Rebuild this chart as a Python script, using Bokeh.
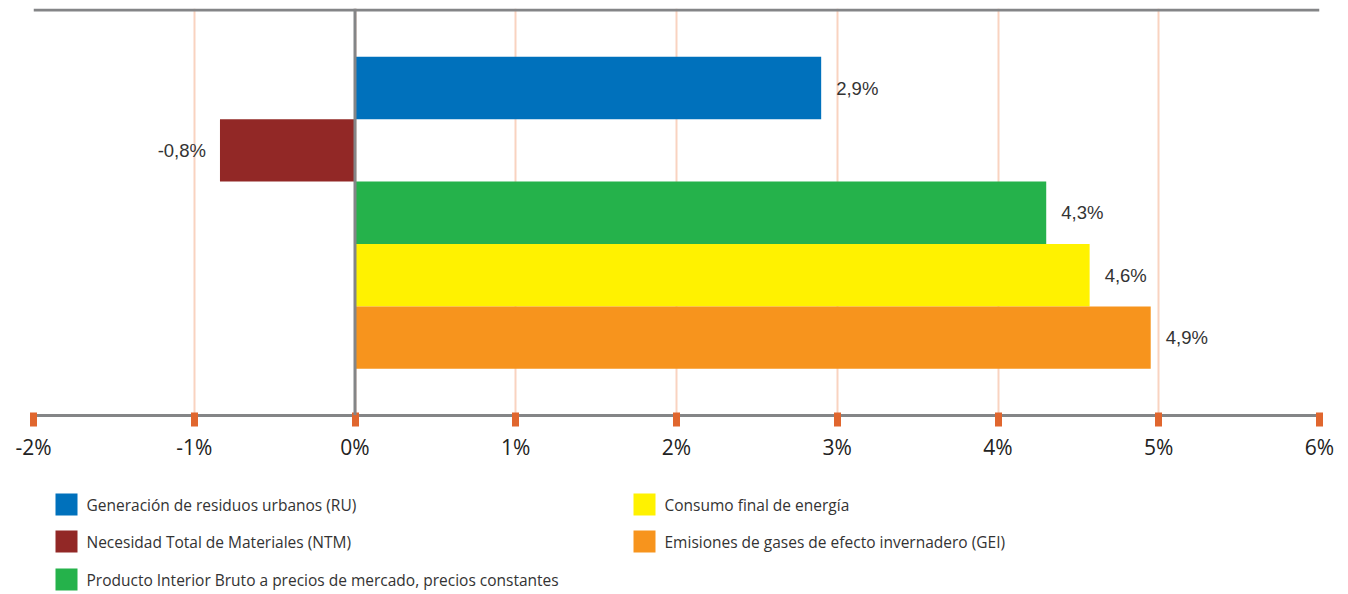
from bokeh.plotting import figure
from bokeh.models import Range1d, Span, ColumnDataSource, FixedTicker
from bokeh.layouts import column
from bokeh.core.properties import value
from bokeh.embed import file_html
from bokeh.resources import INLINE

# ---- data ----
categories = [
    "Generación de residuos urbanos (RU)",
    "Necesidad Total de Materiales (NTM)",
    "Producto Interior Bruto a precios de mercado, precios constantes",
    "Consumo final de energía",
    "Emisiones de gases de efecto invernadero (GEI)",
]
values = [2.9, -0.84, 4.3, 4.57, 4.95]
value_labels = ["2,9%", "-0,8%", "4,3%", "4,6%", "4,9%"]
colors = ["#0071bc", "#922826", "#25b24b", "#fff200", "#f7941d"]
tick_values = [-2, -1, 0, 1, 2, 3, 4, 5, 6]
tick_labels = ["-2%", "-1%", "0%", "1%", "2%", "3%", "4%", "5%", "6%"]

GRAY = "#848587"
TICK = "#e0662e"
GRID = "#f9d3c0"

rows = list(range(len(categories)))
src = ColumnDataSource(dict(
    y=rows, v=values, lab=value_labels, c=colors,
    lab_pos=[l if v >= 0 else "" for l, v in zip(value_labels, values)],
    lab_neg=[l if v < 0 else "" for l, v in zip(value_labels, values)],
))

p = figure(width=1340, height=472, output_backend="svg", toolbar_location=None,
           x_range=Range1d(-2, 6), y_range=Range1d(5.248, -1.274),
           min_border_left=33, min_border_right=21, min_border_top=8,
           min_border_bottom=57)
p.outline_line_color = None
p.background_fill_color = "white"
p.border_fill_color = "white"

p.hbar(y="y", left=0, right="v", height=1.0, color="c", source=src, line_color=None)

p.text(x="v", y="y", text="lab_pos", source=src, x_offset=15,
       text_align="left", text_baseline="middle", text_font=value("Liberation Sans"),
       text_font_size="18.5px", text_color="#333333")
p.text(x="v", y="y", text="lab_neg", source=src, x_offset=-14,
       text_align="right", text_baseline="middle", text_font=value("Liberation Sans"),
       text_font_size="18.5px", text_color="#333333")

# zero line and top line
p.add_layout(Span(location=0, dimension="height", line_color=GRAY, line_width=3))
p.add_layout(Span(location=-1.25, dimension="width", line_color=GRAY, line_width=3))

p.yaxis.visible = False
p.ygrid.visible = False
p.xgrid.ticker = FixedTicker(ticks=tick_values)
p.xgrid.grid_line_color = GRID
p.xgrid.grid_line_width = 2

ax = p.xaxis[0]
ax.ticker = FixedTicker(ticks=tick_values)
ax.major_label_overrides = {t: l for t, l in zip(tick_values, tick_labels)}
ax.axis_line_color = GRAY
ax.axis_line_width = 3
ax.major_tick_line_color = TICK
ax.major_tick_line_width = 7
ax.major_tick_in = 3
ax.major_tick_out = 11
ax.minor_tick_line_color = None
ax.major_label_standoff = 6
ax.major_label_text_font = "Open Sans"
ax.major_label_text_font_size = "21px"
ax.major_label_text_color = "#222222"

# ---- legend figure (frame aligned with the main frame: page x 33..1319) ----
H = 120
lg = figure(width=1340, height=H, output_backend="svg", toolbar_location=None,
            x_range=Range1d(33, 1319), y_range=Range1d(H, 0),
            min_border_left=33, min_border_right=21,
            min_border_top=0, min_border_bottom=0)
lg.outline_line_color = None
lg.axis.visible = False
lg.grid.visible = False
col_x = [66, 644]
row_y = [32, 69, 107]
sq_x = [col_x[i // 3] for i in rows]
sq_y = [row_y[i % 3] for i in rows]
lsrc = ColumnDataSource(dict(x=sq_x, y=sq_y, c=colors, t=categories,
                             tx=[x + 20 for x in sq_x]))
lg.rect(x="x", y="y", width=22, height=22, width_units="screen", height_units="screen",
        color="c", line_color=None, source=lsrc)
lg.text(x="tx", y="y", text="t", source=lsrc, text_align="left", text_baseline="middle",
        text_font=value("Open Sans"), text_font_size="15.5px", text_color="#333333")

layout = column(p, lg, spacing=0)
open("out.html", "w").write(file_html(layout, INLINE))
